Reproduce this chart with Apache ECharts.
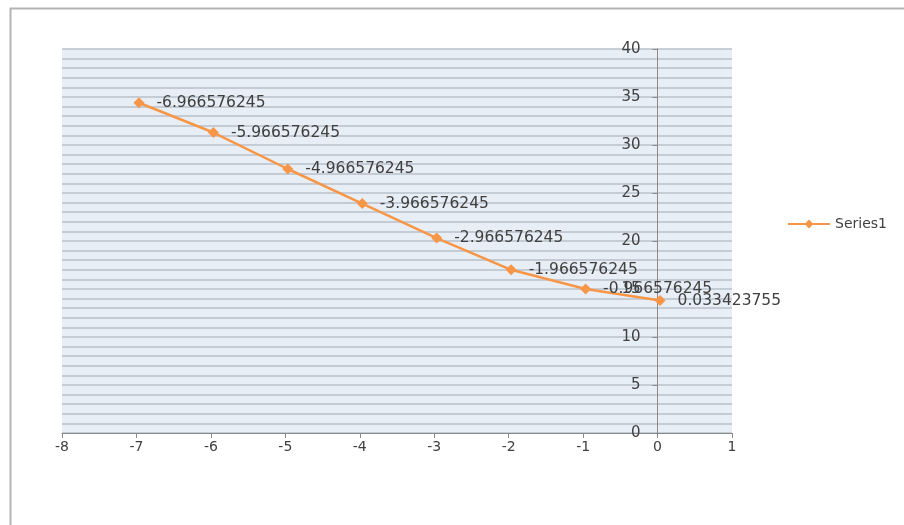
<!DOCTYPE html>
<html>
<head>
<meta charset="utf-8">
<script src="https://cdn.jsdelivr.net/npm/echarts@6/dist/echarts.min.js"></script>
<style>html,body{margin:0;padding:0;background:#fff}#c{width:904px;height:525px}</style>
</head>
<body>
<div id="c"></div>
<script>
var seriesName = 'Series1';
var xValues = [-6.966576245, -5.966576245, -4.966576245, -3.966576245, -2.966576245, -1.966576245, -0.966576245, 0.033423755];
var yValues = [34.4, 31.3, 27.5, 23.9, 20.3, 17.0, 15.0, 13.8];
var xTicks = [-8, 1, 1];   // min, max, interval
var yTicks = [0, 40, 5];   // min, max, interval

var points = xValues.map(function (x, i) { return [x, yValues[i]]; });
var orange = '#f79646';
var font = 'DejaVu Sans';
var gridLeft = 62, gridRight = 172, W = 904;
var gridWidth = W - gridLeft - gridRight;
// y axis sits at x = 0 inside the grid
var yAxisOffset = -((0 - xTicks[0]) / (xTicks[1] - xTicks[0])) * gridWidth;

var chart = echarts.init(document.getElementById('c'), null, {renderer: 'canvas'});
chart.setOption({
  animation: false,
  backgroundColor: '#ffffff',
  graphic: [
    {type: 'line', shape: {x1: 10, y1: 8.5, x2: 904, y2: 8.5}, style: {stroke: '#b4b4b4', lineWidth: 2}, silent: true},
    {type: 'line', shape: {x1: 10.5, y1: 8, x2: 10.5, y2: 525}, style: {stroke: '#b4b4b4', lineWidth: 2}, silent: true}
  ],
  grid: {
    left: gridLeft, right: gridRight, top: 49, bottom: 92,
    show: true, backgroundColor: '#e8eef5', borderWidth: 0
  },
  legend: {
    show: true, orient: 'vertical', left: 782, top: 212,
    itemWidth: 42, itemHeight: 11, itemGap: 4,
    textStyle: {fontFamily: font, fontSize: 14, color: '#404040'},
    data: [seriesName]
  },
  xAxis: {
    type: 'value', min: xTicks[0], max: xTicks[1], interval: xTicks[2],
    axisLine: {show: true, onZero: true, lineStyle: {color: '#8a8a8a', width: 1}},
    axisTick: {show: true, length: 5, lineStyle: {color: '#8a8a8a'}},
    axisLabel: {fontFamily: font, fontSize: 14, color: '#404040', margin: 7},
    splitLine: {show: false}
  },
  yAxis: {
    type: 'value', min: yTicks[0], max: yTicks[1], interval: yTicks[2],
    position: 'left', offset: yAxisOffset,
    axisLine: {show: true, onZero: false, lineStyle: {color: '#8a8a8a', width: 1}},
    axisTick: {show: true, length: 5, lineStyle: {color: '#8a8a8a'}},
    axisLabel: {fontFamily: font, fontSize: 15, color: '#404040', margin: 17},
    splitLine: {show: true, lineStyle: {color: '#b8c0ca', width: 1.5}},
    minorTick: {show: false, splitNumber: 5},
    minorSplitLine: {show: true, lineStyle: {color: '#b8c0ca', width: 1.5}}
  },
  series: [{
    name: seriesName,
    type: 'line',
    data: points,
    symbol: 'diamond',
    symbolSize: 11,
    showAllSymbol: true,
    lineStyle: {color: orange, width: 2.5},
    itemStyle: {color: orange},
    label: {
      show: true, position: 'right', distance: 12,
      fontFamily: font, fontSize: 15.5, color: '#404040',
      formatter: function (p) { return String(p.value[0]); }
    }
  }]
});
</script>
</body>
</html>
